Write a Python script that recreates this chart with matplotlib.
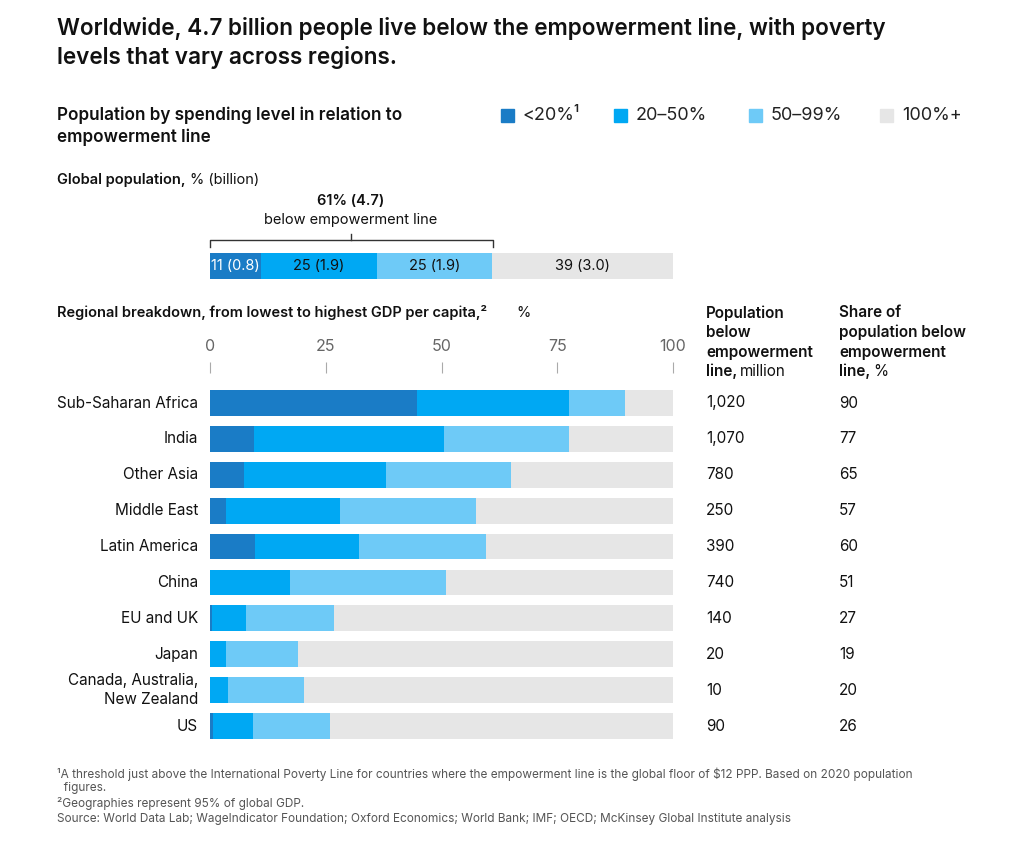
import matplotlib
matplotlib.use("Agg")
import matplotlib.pyplot as plt
from matplotlib.lines import Line2D

plt.rcParams['font.family'] = ['Inter', 'DejaVu Sans']

regions = ["Sub-Saharan Africa", "India", "Other Asia", "Middle East", "Latin America", "China",
           "EU and UK", "Japan", "Canada, Australia,\nNew Zealand", "US"]
lt20 = [44.7, 9.5, 7.3, 3.5, 9.7, 0, 0.4, 0, 0, 0.6]
p20_50 = [32.8, 41.0, 30.7, 24.5, 22.5, 17.3, 7.4, 3.5, 3.9, 8.7]
p50_99 = [12.1, 27.0, 27.0, 29.5, 27.4, 33.7, 19.0, 15.5, 16.4, 16.7]
pop_below = ["1,020", "1,070", "780", "250", "390", "740", "140", "20", "10", "90"]
share_below = ["90", "77", "65", "57", "60", "51", "27", "19", "20", "26"]
global_vals = [11, 25, 25, 39]
global_labels = ["11 (0.8)", "25 (1.9)", "25 (1.9)", "39 (3.0)"]
legend_labels = ["<20%¹", "20–50%", "50–99%", "100%+"]
colors = ["#1a7cc6", "#00a8f3", "#6ecaf7", "#e6e6e6"]
ticks = [0, 25, 50, 75, 100]

W, H = 1015, 852
fig = plt.figure(figsize=(W/100, H/100), dpi=100)

def fx(x): return x / W
def fy(y): return 1 - y / H
def txt(x, y, s, **kw):
    kw.setdefault('va', 'center')
    kw.setdefault('color', '#111111')
    return fig.text(fx(x), fy(y), s, **kw)
def axpx(x0, y0, x1, y1):
    return fig.add_axes([fx(x0), fy(y1), fx(x1) - fx(x0), (y1 - y0) / H])

txt(57, 43, "Worldwide, 4.7 billion people live below the empowerment line, with poverty\nlevels that vary across regions.",
    fontsize=16.2, fontweight='semibold', linespacing=1.3)
txt(57, 126, "Population by spending level in relation to\nempowerment line", fontsize=12.3, fontweight='semibold', linespacing=1.3)

lx = [501, 614, 749, 880]
for x, lab, c in zip(lx, legend_labels, colors):
    fig.patches.append(plt.Rectangle((fx(x), fy(122)), 13/W, 13/H, color=c, transform=fig.transFigure))
    txt(x + 22, 115, lab, fontsize=13, color='#222222')

txt(57, 180, "Global population, ", fontsize=10.5, fontweight='semibold')
txt(190, 180, "% (billion)", fontsize=10.5)
txt(351, 201, "61% (4.7)", fontsize=10.5, fontweight='semibold', ha='center')
txt(351, 220, "below empowerment line", fontsize=10.5, ha='center')
for xs, ys in [([210, 210, 493, 493], [247, 240, 240, 247]), ([351, 351], [240, 234])]:
    fig.lines.append(Line2D([fx(v) for v in xs], [fy(v) for v in ys], color='#333333', lw=1, transform=fig.transFigure))

gax = axpx(210, 253, 673, 279)
left = 0
for v, lab, c in zip(global_vals, global_labels, colors):
    gax.barh(0, v, left=left, color=c, height=1, edgecolor='none')
    gax.text(left + v/2, 0, lab, ha='center', va='center', fontsize=10.5,
             color='white' if c == colors[0] else '#111111')
    left += v
gax.set_xlim(0, 100); gax.set_ylim(-0.5, 0.5); gax.axis('off')

txt(57, 313, "Regional breakdown, from lowest to highest GDP per capita,² ", fontsize=10.5, fontweight='semibold')
txt(516, 313, "%", fontsize=10.5)

tax = axpx(210, 362, 673, 370)
tax.set_xlim(0, 100)
tax.set_xticks(ticks)
tax.tick_params(axis='x', top=True, labeltop=True, bottom=False, labelbottom=False,
                direction='in', length=8, color='#aaaaaa', labelcolor='#666666', labelsize=11.5, pad=6)
tax.set_yticks([])
for s in tax.spines.values(): s.set_visible(False)

ax = axpx(210, 385, 673, 744)
n = len(regions)
ys = list(range(n))
grey = [100 - a - b - c for a, b, c in zip(lt20, p20_50, p50_99)]
left = [0]*n
for vals, c in zip([lt20, p20_50, p50_99, grey], colors):
    ax.barh(ys, vals, left=left, color=c, height=0.72, edgecolor='none')
    left = [l + v for l, v in zip(left, vals)]
ax.set_xlim(0, 100); ax.set_ylim(n - 0.5, -0.5)
ax.axis('off')
for i, r in enumerate(regions):
    y = 403 + i * 35.9
    txt(198, y, r, ha='right', fontsize=11, linespacing=1.3)
    txt(706, y, pop_below[i], fontsize=11)
    txt(839, y, share_below[i], fontsize=11)

for yy, s in zip([313, 332, 352], ["Population", "below", "empowerment"]):
    txt(706, yy, s, fontsize=11, fontweight='semibold')
txt(706, 371, "line,", fontsize=11, fontweight='semibold')
txt(740, 371, "million", fontsize=11)
for yy, s in zip([313, 332, 352], ["Share of", "population below", "empowerment"]):
    txt(839, yy, s, fontsize=11, fontweight='semibold')
txt(839, 371, "line,", fontsize=11, fontweight='semibold')
txt(873, 371, "%", fontsize=11)

fc = '#555555'
txt(57, 774, "¹A threshold just above the International Poverty Line for countries where the empowerment line is the global floor of $12 PPP. Based on 2020 population",
    fontsize=8.5, color=fc)
txt(57, 788, "  figures.", fontsize=8.5, color=fc)
txt(57, 803, "²Geographies represent 95% of global GDP.", fontsize=8.5, color=fc)
txt(57, 819, "Source: World Data Lab; WageIndicator Foundation; Oxford Economics; World Bank; IMF; OECD; McKinsey Global Institute analysis",
    fontsize=8.5, color=fc)

fig.savefig("out.png", dpi=100, facecolor='white')
